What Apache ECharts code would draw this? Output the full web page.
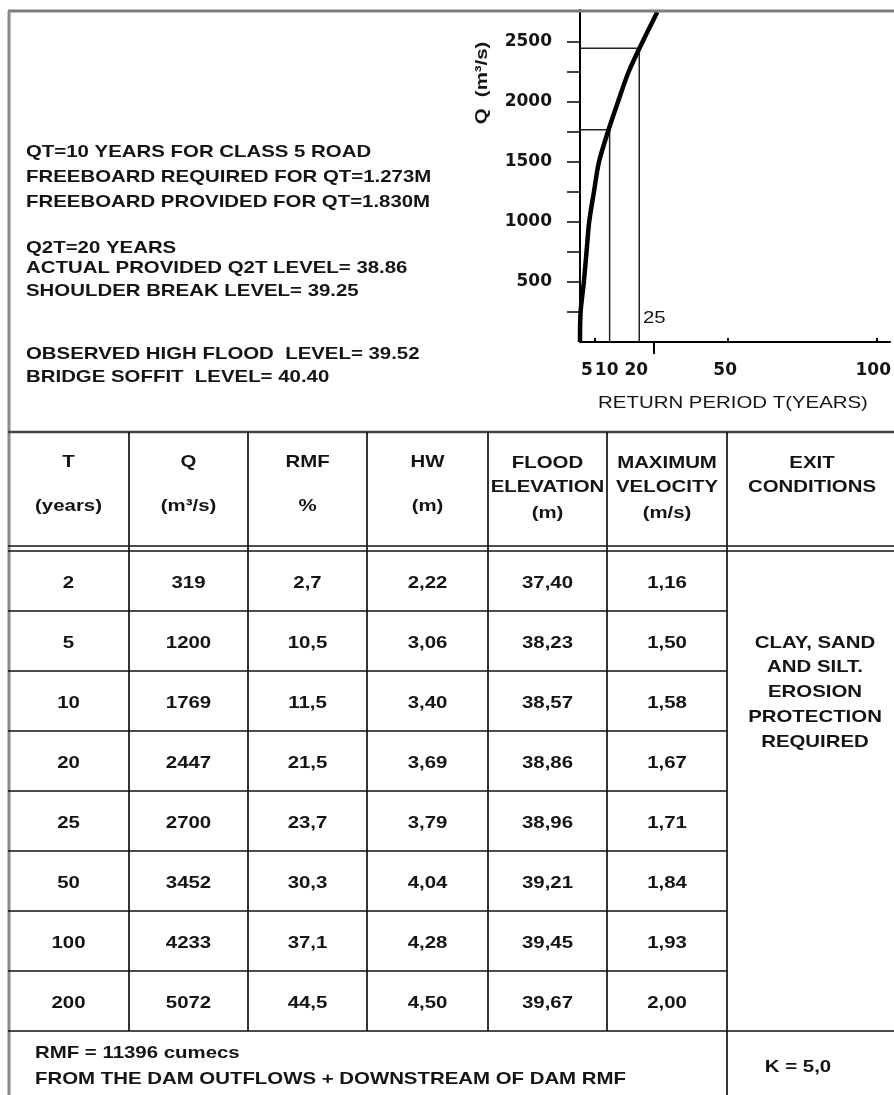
<!DOCTYPE html>
<html>
<head>
<meta charset="utf-8">
<title>Return period - discharge</title>
<script src="https://cdn.jsdelivr.net/npm/echarts@6.0.0/dist/echarts.min.js"></script>
<style>
html, body { margin: 0; padding: 0; background: #fff; }
#main { width: 894px; height: 1095px; }
</style>
</head>
<body>
<div id="main"></div>
<script>
// table values
var tableT = [2, 5, 10, 20, 25, 50, 100, 200];
var tableQ = [319, 1200, 1769, 2447, 2700, 3452, 4233, 5072];
var tableRMF = [2.7, 10.5, 11.5, 21.5, 23.7, 30.3, 37.1, 44.5];
var tableHW = [2.22, 3.06, 3.40, 3.69, 3.79, 4.04, 4.28, 4.50];
var tableElev = [37.40, 38.23, 38.57, 38.86, 38.96, 39.21, 39.45, 39.67];
var tableVel = [1.16, 1.50, 1.58, 1.67, 1.71, 1.84, 1.93, 2.00];

// frequency curve
var curveT = [0, 0.2, 1.3, 2.2, 3.1, 4.7, 6.4, 9.4, 12.8, 16.4, 21.1, 26.1];
var curveQ = [0, 250, 500, 750, 1000, 1250, 1500, 1750, 2000, 2250, 2500, 2750];

// axis ticks
var xLabels = [5, 10, 20, 50, 100];
var xSmallTicks = [5, 50, 100];
var yLabels = [500, 1000, 1500, 2000, 2500];
var yTicks = [250, 500, 750, 1000, 1250, 1500, 1750, 2000, 2250, 2500];

// texts
var notes = [
    'QT=10 YEARS FOR CLASS 5 ROAD',
    'FREEBOARD REQUIRED FOR QT=1.273M',
    'FREEBOARD PROVIDED FOR QT=1.830M',
    'Q2T=20 YEARS',
    'ACTUAL PROVIDED Q2T LEVEL= 38.86',
    'SHOULDER BREAK LEVEL= 39.25',
    'OBSERVED HIGH FLOOD  LEVEL= 39.52',
    'BRIDGE SOFFIT  LEVEL= 40.40'
];
var headers = [
    ['T', '(years)'],
    ['Q', '(m\u00b3/s)'],
    ['RMF', '%'],
    ['HW', '(m)'],
    ['FLOOD', 'ELEVATION', '(m)'],
    ['MAXIMUM', 'VELOCITY', '(m/s)'],
    ['EXIT', 'CONDITIONS']
];
var exitText = ['CLAY, SAND', 'AND SILT.', 'EROSION', 'PROTECTION', 'REQUIRED'];
var footer = ['RMF = 11396 cumecs', 'FROM THE DAM OUTFLOWS + DOWNSTREAM OF DAM RMF'];
var kText = 'K = 5,0';

// layout
var noteY = [152, 177, 202, 248, 268, 291, 354, 377];
var colX = [8, 129, 248, 367, 488, 607, 727, 894];
var tableTop = 432, headBottom = 546, rowTop = 551, rowH = 60;
var INK = '#141414';

function comma(v, d) { return v.toFixed(d).replace('.', ','); }

function txt(x, y, s, align, size, weight) {
    return {
        type: 'text', x: x, y: y, scaleX: 1.2, silent: true, z: 50,
        style: {
            text: s, x: 0, y: 0, align: align || 'center', verticalAlign: 'middle',
            fontFamily: 'Liberation Sans', fontSize: size || 17, fontWeight: weight || 'bold',
            fill: INK
        }
    };
}
function seg(x1, y1, x2, y2, w, c) {
    return {
        type: 'line', silent: true, z: 60,
        shape: {x1: x1, y1: y1, x2: x2, y2: y2},
        style: {stroke: c || '#111', lineWidth: w || 1.7}
    };
}

var g = [];
// outer frame
g.push(seg(8, 11, 894, 11, 3, '#7c7c7c'));
g.push(seg(9, 11, 9, 1095, 3, '#8a8a8a'));
// notes
notes.forEach(function (s, i) { g.push(txt(26, noteY[i], s, 'left')); });
// axis names
var qTitle = txt(482, 83, 'Q  (m\u00b3/s)', 'center');
qTitle.rotation = Math.PI / 2;
g.push(qTitle);
g.push(txt(733, 403, 'RETURN PERIOD T(YEARS)', 'center', 17, 'normal'));
g.push(txt(643, 318, String(tableT[4]), 'left', 17, 'normal'));

// table grid
g.push(seg(8, tableTop, 894, tableTop, 2.5, '#444'));
g.push(seg(8, headBottom, 894, headBottom));
g.push(seg(8, rowTop, 894, rowTop));
var tableBottom = rowTop + rowH * tableT.length;
for (var r = 1; r < tableT.length; r++) {
    g.push(seg(8, rowTop + r * rowH, colX[6], rowTop + r * rowH));
}
g.push(seg(8, tableBottom, 894, tableBottom));
for (var c = 1; c <= 5; c++) {
    g.push(seg(colX[c], tableTop, colX[c], tableBottom));
}
g.push(seg(colX[6], tableTop, colX[6], 1095));

// header texts
headers.forEach(function (h, i) {
    var cx = (colX[i] + colX[i + 1]) / 2;
    if (i === 6) cx = 812;
    if (h.length === 2 && i < 6) {
        g.push(txt(cx, 462, h[0]));
        g.push(txt(cx, 506, h[1]));
    } else {
        var ys = [463, 487, 513];
        h.forEach(function (s, k) { g.push(txt(cx, ys[k], s)); });
    }
});

// body rows
tableT.forEach(function (t, i) {
    var cy = rowTop + i * rowH + rowH / 2 + 2;
    var cells = [String(t), String(tableQ[i]), comma(tableRMF[i], 1), comma(tableHW[i], 2),
        comma(tableElev[i], 2), comma(tableVel[i], 2)];
    cells.forEach(function (s, c) {
        g.push(txt((colX[c] + colX[c + 1]) / 2, cy, s));
    });
});
exitText.forEach(function (s, i) { g.push(txt(815, 643 + i * 24.8, s)); });

// footer
g.push(txt(35, 1053, footer[0], 'left'));
g.push(txt(35, 1079, footer[1], 'left'));
g.push(txt(798, 1067, kText));

var dom = document.getElementById('main');
var myChart = echarts.init(dom);
var axisFont = {color: INK, fontFamily: 'DejaVu Sans', fontWeight: 'bold', fontSize: 17};

var option = {
    animation: false,
    backgroundColor: '#fff',
    grid: {left: 580, right: 0, top: 10, bottom: 753, containLabel: false},
    xAxis: [{
        type: 'value', min: 0, max: 104.67,
        axisLine: {show: true, onZero: false, lineStyle: {color: '#000', width: 2}},
        axisTick: {show: true, customValues: xSmallTicks, inside: true, length: 4,
            lineStyle: {color: '#000', width: 2}},
        axisLabel: Object.assign({
            customValues: xLabels, margin: 20, hideOverlap: false,
            formatter: function (v) { return v === 5 ? '{a|5}' : '{b|' + v + '}'; },
            rich: {
                a: Object.assign({padding: [0, 16, 0, 0]}, axisFont),
                b: Object.assign({padding: [0, 6, 0, 0]}, axisFont)
            }
        }, axisFont),
        splitLine: {show: false}
    }, {
        type: 'value', min: 0, max: 104.67, position: 'bottom',
        axisLine: {show: false},
        axisLabel: {show: false},
        axisTick: {show: true, customValues: [tableT[4]], length: 12,
            lineStyle: {color: '#000', width: 2}},
        splitLine: {show: false}
    }],
    yAxis: {
        type: 'value', min: 0, max: 2766.7,
        axisLine: {show: true, onZero: false, lineStyle: {color: '#000', width: 2}},
        axisTick: {show: true, customValues: yTicks, length: 13,
            lineStyle: {color: '#222', width: 1.7}},
        axisLabel: Object.assign({
            customValues: yLabels, margin: 28,
            formatter: function (v) { return String(v); }
        }, axisFont),
        splitLine: {show: false}
    },
    series: [
        {
            name: 'T=10', type: 'line', symbol: 'none', z: 3,
            data: [[0, tableQ[2]], [tableT[2], tableQ[2]], [tableT[2], 0]],
            lineStyle: {color: '#222', width: 1.5}
        },
        {
            name: 'T=20', type: 'line', symbol: 'none', z: 3,
            data: [[0, tableQ[3]], [tableT[3], tableQ[3]], [tableT[3], 0]],
            lineStyle: {color: '#222', width: 1.5}
        },
        {
            name: 'Q-T', type: 'line', symbol: 'none', smooth: 0.3, z: 5,
            data: curveT.map(function (t, i) { return [t, curveQ[i]]; }),
            lineStyle: {color: '#000', width: 4.5}
        }
    ],
    graphic: {elements: g}
};
myChart.setOption(option, true);
</script>
</body>
</html>
